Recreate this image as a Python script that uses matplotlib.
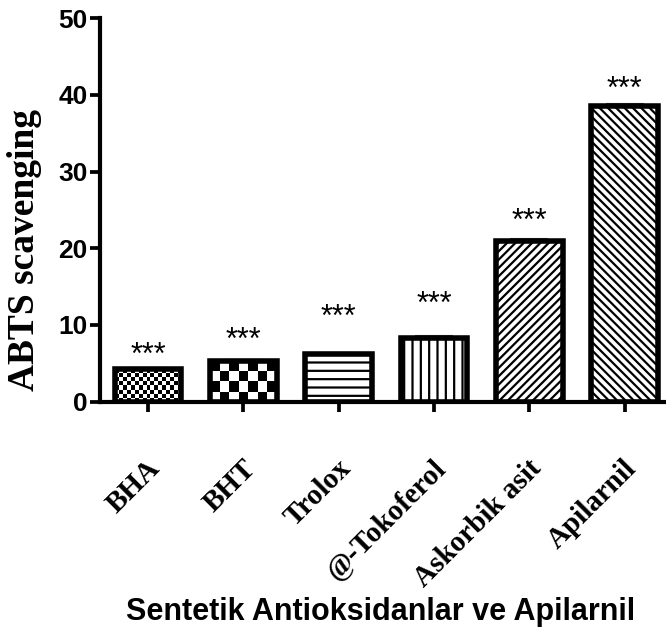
import matplotlib
matplotlib.use('Agg')
import matplotlib.pyplot as plt
import matplotlib.transforms as mtransforms
import numpy as np

categories = ['BHA', 'BHT', 'Trolox', '@-Tokoferol', 'Askorbik asit', 'Apilarnil']
values = [4.2, 5.3, 6.2, 8.3, 21.0, 38.6]
errors = [0.15, 0.2, 0.15, 0.2, 0.15, 0.25]
star_y = [6.8, 8.7, 11.7, 13.4, 24.2, 41.4]
stars = ['***'] * 6
hatches = [None, None, '--', '||', '////', '\\\\\\\\']
checker_px = [4, 10, None, None, None, None]

plt.rcParams['hatch.linewidth'] = 1.6
fig = plt.figure(figsize=(6.66, 6.32), dpi=100)
ax = fig.add_axes([0.150, 0.3644, 0.848, 0.607])

x = np.arange(len(categories))
bars = ax.bar(x, values, width=0.70, facecolor='white', edgecolor='black',
              linewidth=0, zorder=2)
for b, h in zip(bars, hatches):
    if h:
        b.set_hatch(h)
ax.errorbar(x, values, yerr=errors, fmt='none', ecolor='#555555',
            elinewidth=1.5, capsize=14, capthick=1.5, zorder=1)

ax.set_xlim(-0.504, 5.42)
ax.set_ylim(0, 50)

# checkerboard fills
fig.canvas.draw()
for b, cp in zip(bars, checker_px):
    if cp is None:
        continue
    x0, x1 = b.get_x(), b.get_x() + b.get_width()
    y0, y1 = 0, b.get_height()
    p0 = ax.transData.transform((x0, y0))
    p1 = ax.transData.transform((x1, y1))
    nx = max(1, int(round((p1[0] - p0[0]) / cp)))
    ny = max(1, int(round((p1[1] - p0[1]) / cp)))
    board = (np.add.outer(np.arange(ny), np.arange(nx)) % 2).astype(float)
    im = ax.imshow(board, cmap='gray', extent=(x0, x1, y0, y1),
                   interpolation='nearest', aspect='auto', zorder=2.5)
    im.set_clip_path(b)
ax.set_aspect('auto')
ax.set_xlim(-0.504, 5.42)
ax.set_ylim(0, 50)

# bar outlines on top
ax.bar(x, values, width=0.70, fill=False, edgecolor='black', linewidth=4,
       zorder=3)

for xi, sy, s in zip(x, star_y, stars):
    ax.annotate(s, (xi, sy), xytext=(0, -10), textcoords='offset points',
                ha='center', va='baseline', fontsize=22,
                family='Liberation Sans')

for side in ['top', 'right']:
    ax.spines[side].set_visible(False)
for side in ['left', 'bottom']:
    ax.spines[side].set_linewidth(3)
    ax.spines[side].set_zorder(4)

ax.set_yticks([0, 10, 20, 30, 40, 50])
ax.tick_params(axis='y', width=2.7, length=7, labelsize=19, pad=2)
ax.tick_params(axis='x', width=2.7, length=7, pad=38)
for lab in ax.get_yticklabels():
    lab.set_fontfamily('Liberation Sans')
    lab.set_fontweight('bold')

ax.set_xticks(x)
ax.set_xticklabels(categories, rotation=45, ha='right', va='center',
                   rotation_mode='anchor', fontsize=21,
                   family='Liberation Serif', fontweight='bold')
shift = mtransforms.ScaledTranslation(8 / 100, 0, fig.dpi_scale_trans)
for lab in ax.get_xticklabels():
    lab.set_transform(lab.get_transform() + shift)

fig.text(25 / 666, 1 - 250 / 632, 'ABTS scavenging', rotation=90,
         ha='center', va='center', fontsize=27, family='Liberation Serif',
         fontweight='bold')
fig.text(381 / 666, 1 - 620 / 632, 'Sentetik Antioksidanlar ve Apilarnil',
         ha='center', va='baseline', fontsize=22, family='Liberation Sans',
         fontweight='bold')

plt.savefig('out.png', dpi=100)
